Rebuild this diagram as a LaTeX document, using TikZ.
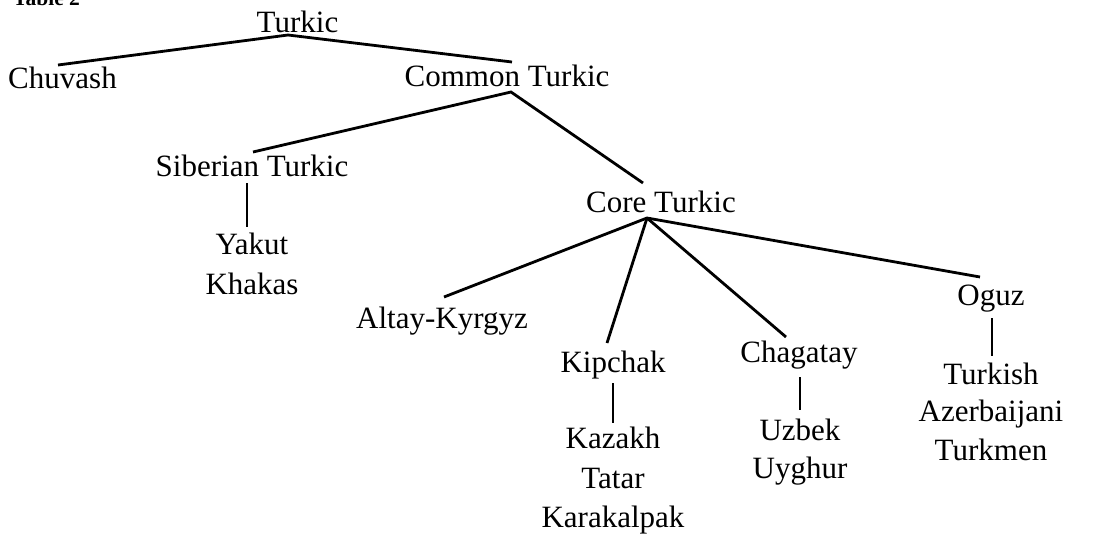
\documentclass[tikz,border=0pt]{standalone}
\usepackage{fontspec}
\setmainfont{Liberation Serif}
\begin{document}
\begin{tikzpicture}[x=1pt,y=-1pt,
  lbl/.style={anchor=base,inner sep=0pt,font=\fontsize{31}{36}\selectfont},
  edge/.style={line width=2.8pt,line cap=butt}]
\useasboundingbox (0,0) rectangle (1099,533);
\node[anchor=base west,inner sep=0pt,font=\fontsize{21.5}{25}\selectfont\bfseries] (title) at (13,5) {Table 2};
% labels
\node[lbl] (turkic) at (297.5,32) {Turkic};
\node[lbl] (chuvash) at (62.5,88) {Chuvash};
\node[lbl] (common) at (507,86) {Common Turkic};
\node[lbl] (siberian) at (252,176) {Siberian Turkic};
\node[lbl] (yakut) at (252,254) {Yakut};
\node[lbl] (khakas) at (252,294) {Khakas};
\node[lbl] (core) at (661,212) {Core Turkic};
\node[lbl] (altay) at (442,328) {Altay-Kyrgyz};
\node[lbl] (kipchak) at (613,372) {Kipchak};
\node[lbl] (kazakh) at (613,448) {Kazakh};
\node[lbl] (tatar) at (613,488) {Tatar};
\node[lbl] (karakalpak) at (613,527) {Karakalpak};
\node[lbl] (chagatay) at (799,362) {Chagatay};
\node[lbl] (uzbek) at (800,440) {Uzbek};
\node[lbl] (uyghur) at (800,478) {Uyghur};
\node[lbl] (oguz) at (991,305) {Oguz};
\node[lbl] (turkish) at (991,384) {Turkish};
\node[lbl] (azeri) at (991,421) {Azerbaijani};
\node[lbl] (turkmen) at (991,460) {Turkmen};
% attachment points
\coordinate (turkicB) at (288,35);
\coordinate (chuvashT) at (58,65);
\coordinate (commonT) at (512,62);
\coordinate (commonB) at (511,92);
\coordinate (siberianT) at (253,152);
\coordinate (siberianB) at (247,183);
\coordinate (yakutT) at (247,227);
\coordinate (coreT) at (643,183);
\coordinate (coreB) at (647,218);
\coordinate (altayT) at (444,297);
\coordinate (kipchakT) at (607,343);
\coordinate (kipchakB) at (613,383);
\coordinate (kazakhT) at (613,423);
\coordinate (chagatayT) at (786,337);
\coordinate (chagatayB) at (800,377);
\coordinate (uzbekT) at (800,410);
\coordinate (oguzT) at (980,277);
\coordinate (oguzB) at (992,318);
\coordinate (turkishT) at (992,356);
% connectors
\draw[edge] (chuvashT) -- (turkicB) -- (commonT);
\draw[edge] (siberianT) -- (commonB) -- (coreT);
\draw[edge] (siberianB) -- (yakutT);
\draw[edge] (altayT) -- (coreB) -- (oguzT);
\draw[edge] (coreB) -- (kipchakT);
\draw[edge] (coreB) -- (chagatayT);
\draw[edge] (kipchakB) -- (kazakhT);
\draw[edge] (chagatayB) -- (uzbekT);
\draw[edge] (oguzB) -- (turkishT);
\end{tikzpicture}
\end{document}
